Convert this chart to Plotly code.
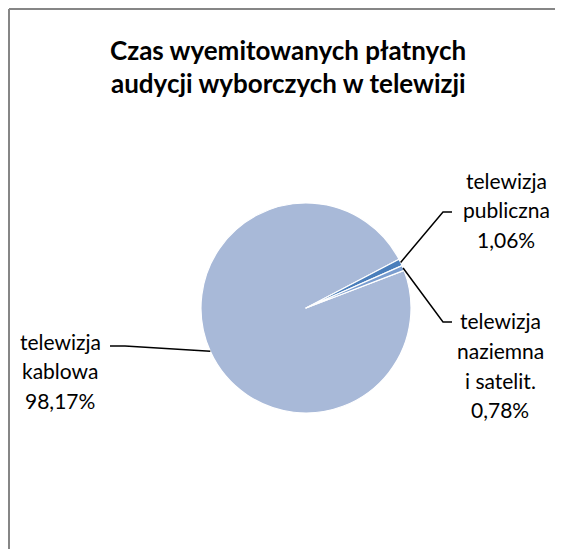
import numpy as np
import plotly.graph_objects as go

# data
labels = ["telewizja kablowa", "telewizja publiczna", "telewizja naziemna i satelit."]
label_lines = [["telewizja", "kablowa"], ["telewizja", "publiczna"], ["telewizja", "naziemna", "i satelit."]]
shares = [98.17, 1.06, 0.78]
colors = ["#A8B9D8", "#4A7EBB", "#7A9DCF"]
title_lines = ["Czas wyemitowanych płatnych", "audycji wyborczych w telewizji"]

# the page body has an 8px margin, so the figure starts at (8, 8) in the window
BODY = 8
W, H = 563 - BODY, 557 - 2 * BODY
ML, MT = 1, 1
first_angle = 69  # clockwise from 12 o'clock


def px(x):
    # window pixel -> paper
    return (x - BODY - ML) / (W - ML)


def py(y):
    return 1 - (y - BODY - MT) / (H - MT)


cx, cy, r = 306, 308, 105

fig = go.Figure(go.Pie(
    labels=labels,
    values=shares,
    sort=False,
    direction="clockwise",
    rotation=first_angle,
    marker=dict(colors=colors, line=dict(color="white", width=1.2)),
    textinfo="none",
    hoverinfo="label+percent",
    domain=dict(x=[px(cx - r), px(cx + r)], y=[py(cy + r), py(cy - r)]),
    showlegend=False,
))

# where each label sits (text centre x, first line y) and its leader elbow
label_pos = [(60, 341), (506, 180), (500, 321)]
elbows = [[(125, 346), (110, 346)], [(443, 212), (452, 212)], [(443, 322), (452, 322)]]
line_gap = 29.5

total = sum(shares)
start = first_angle
font = dict(family="Lato, 'Open Sans', sans-serif", size=21, color="#000000")
for i, v in enumerate(shares):
    mid = np.radians(start + v / total * 360 / 2)
    start += v / total * 360
    ax = cx + r * np.sin(mid)
    ay = cy - r * np.cos(mid)
    pts = [(ax, ay)] + elbows[i]
    path = "M " + " L ".join(f"{px(x):.5f},{py(y):.5f}" for x, y in pts)
    fig.add_shape(type="path", path=path, xref="paper", yref="paper",
                  line=dict(color="black", width=1.5))

    pct = f"{v:.2f}".replace(".", ",") + "%"
    lx, ly = label_pos[i]
    for j, t in enumerate(label_lines[i] + [pct]):
        fig.add_annotation(x=px(lx), y=py(ly + j * line_gap), xref="paper", yref="paper",
                           text=t, showarrow=False, font=font,
                           xanchor="center", yanchor="middle")

for j, t in enumerate(title_lines):
    fig.add_annotation(x=px(288), y=py(50 + j * 33), xref="paper", yref="paper",
                       text="<b>" + t + "</b>", showarrow=False,
                       font=dict(family="Lato, 'Open Sans', sans-serif", size=26, color="#000000"),
                       xanchor="center", yanchor="middle")

# chart frame (only top and left edges are visible in the picture)
fig.add_shape(type="line", xref="paper", yref="paper", x0=0, y0=0, x1=0, y1=1,
              line=dict(color="#868686", width=2))
fig.add_shape(type="line", xref="paper", yref="paper", x0=0, y0=1, x1=1, y1=1,
              line=dict(color="#868686", width=2))

fig.update_layout(
    width=W, height=H,
    margin=dict(l=ML, r=0, t=MT, b=0, pad=0),
    paper_bgcolor="white",
    plot_bgcolor="white",
)

fig.write_html("out.html")
